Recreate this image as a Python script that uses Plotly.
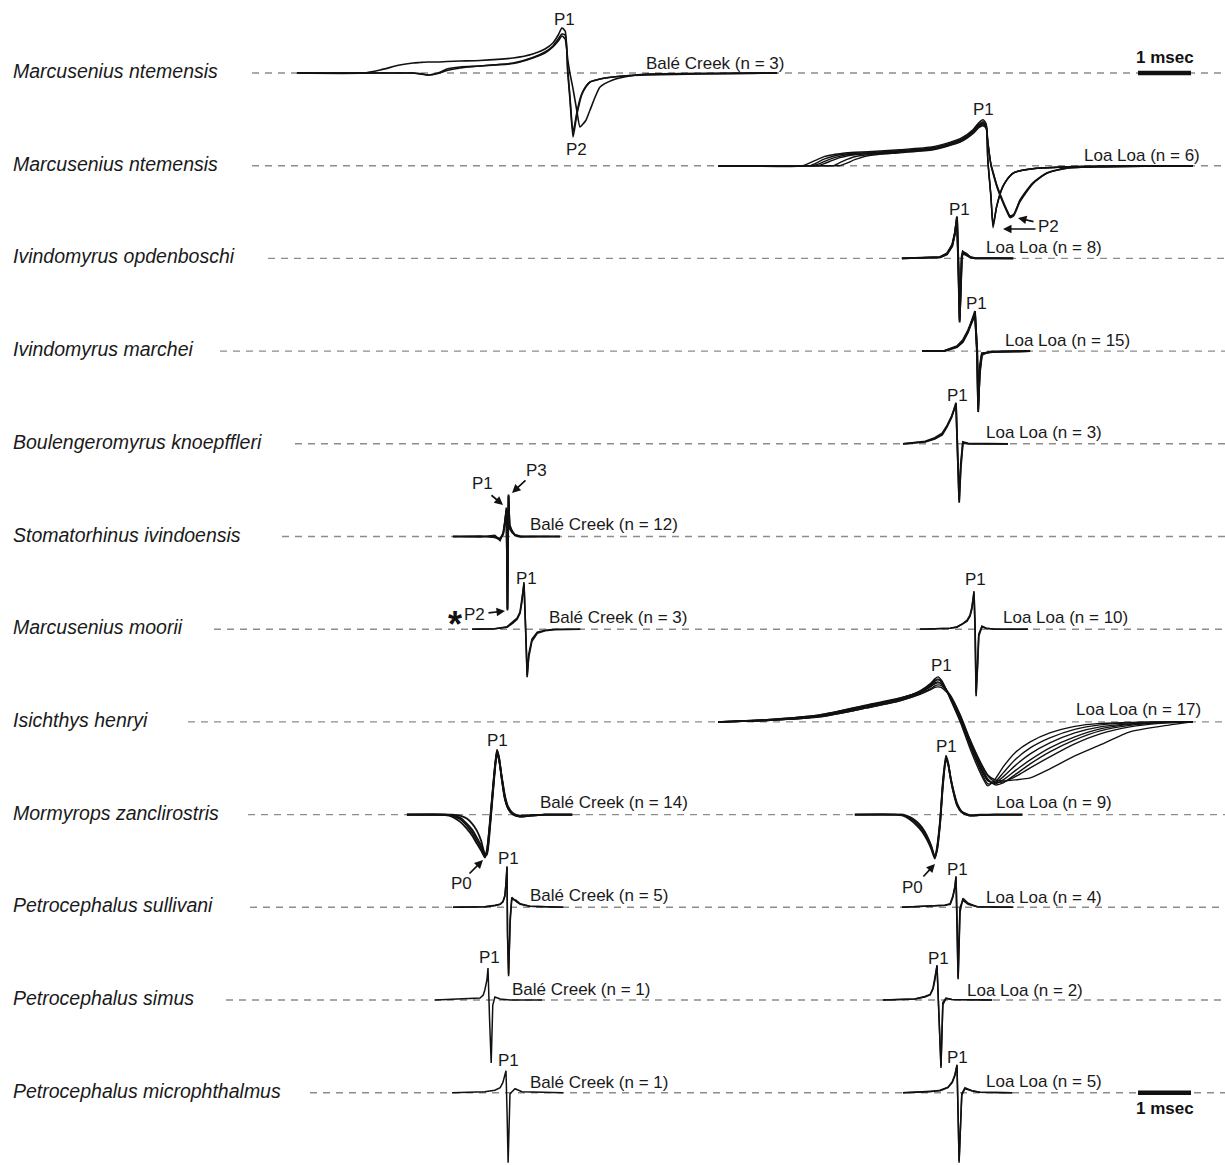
import plotly.graph_objects as go

# ---------------- page geometry (layout only) ----------------
W, H = 1225, 1165
PX_PER_MS = 53.0      # length of the "1 msec" bar in px
PX_PER_UNIT = 50.0    # px per relative-amplitude unit
ROW0_PX = 73.0        # baseline of the first row
ROW_PX = 92.7         # spacing between rows


def xp(px):
    return px / PX_PER_MS


def yp(py):
    return (ROW0_PX - py) / PX_PER_UNIT


def base(row):
    return -row * ROW_PX / PX_PER_UNIT


# ---------------- data ----------------
SPECIES = [
    "Marcusenius ntemensis",
    "Marcusenius ntemensis",
    "Ivindomyrus opdenboschi",
    "Ivindomyrus marchei",
    "Boulengeromyrus knoepffleri",
    "Stomatorhinus ivindoensis",
    "Marcusenius moorii",
    "Isichthys henryi",
    "Mormyrops zanclirostris",
    "Petrocephalus sullivani",
    "Petrocephalus simus",
    "Petrocephalus microphthalmus",
]
SCALE_MS = 1.0

# time (ms, relative to P1 peak) and relative amplitudes of each recorded EOD
mn_bale_t = [-5.02, -3.77, -3.45, -3.08, -2.83, -2.70, -2.55, -2.36, -2.19, -1.94, -1.57, -0.94,
             -0.57, -0.34, -0.19, -0.09, -0.02, 0.04, 0.09, 0.13, 0.19, 0.26, 0.32, 0.36, 0.43,
             0.51, 0.70, 0.94, 1.26, 1.58, 2.58, 4.04]
mn_bale_a = [0, 0, 0.06, 0.16, 0.20, 0.21, 0.22, 0.22, 0.23, 0.24, 0.25, 0.30, 0.38, 0.48, 0.60,
             0.76, 0.90, 0.84, 0.00, -0.51, -1.28, -0.84, -0.56, -0.42, -0.28, -0.18, -0.12, -0.08,
             -0.05, -0.04, -0.02, 0]
mn_bale_b = [0, 0, 0, 0, 0, -0.02, -0.04, 0, 0.08, 0.12, 0.14, 0.19, 0.30, 0.40, 0.52, 0.64, 0.74,
             0.68, 0.27, 0, -0.32, -0.75, -1.08, -1.04, -0.95, -0.74, -0.28, -0.14, -0.06, -0.02,
             -0.01, 0]
mn_bale_c = [0, 0, 0, 0, 0, -0.01, -0.04, -0.01, 0.05, 0.10, 0.14, 0.20, 0.31, 0.42, 0.54, 0.68,
             0.78, 0.76, 0.05, -0.45, -1.18, -0.80, -0.52, -0.40, -0.27, -0.18, -0.12, -0.08, -0.05,
             -0.03, -0.01, 0]

mn_loa_t = [-5.00, -3.40, -3.26, -3.11, -3.00, -2.83, -2.70, -2.55, -2.42, -2.17, -1.57, -0.94,
            -0.43, -0.19, -0.08, 0, 0.06, 0.09, 0.15, 0.19, 0.26, 0.36, 0.45, 0.51, 0.58, 0.70,
            0.94, 1.21, 1.58, 2.21, 3.96]
mn_loa_1 = [0, 0, 0.06, 0.13, 0.18, 0.22, 0.24, 0.26, 0.27, 0.28, 0.32, 0.38, 0.54, 0.72, 0.86,
            0.92, 0.84, 0.10, -0.65, -1.24, -0.80, -0.44, -0.28, -0.20, -0.14, -0.10, -0.06,
            -0.04, -0.02, -0.01, 0]
mn_loa_2 = [0, 0, 0, 0.07, 0.13, 0.19, 0.22, 0.24, 0.25, 0.26, 0.30, 0.36, 0.52, 0.70, 0.83,
            0.88, 0.80, 0.12, -0.60, -1.20, -0.82, -0.46, -0.29, -0.21, -0.15, -0.10, -0.06,
            -0.04, -0.02, -0.01, 0]
mn_loa_3 = [0, 0, 0, 0, 0.04, 0.11, 0.16, 0.20, 0.22, 0.24, 0.28, 0.34, 0.50, 0.68, 0.80, 0.84,
            0.78, 0.48, 0.02, -0.14, -0.40, -0.68, -0.90, -1.02, -0.98, -0.68, -0.34, -0.14,
            -0.04, -0.02, 0]
mn_loa_4 = [0, 0, 0, 0, 0, 0, 0.06, 0.13, 0.18, 0.22, 0.27, 0.33, 0.48, 0.66, 0.78, 0.82, 0.76,
            0.46, 0.04, -0.12, -0.38, -0.66, -0.88, -1.00, -0.97, -0.70, -0.36, -0.15, -0.05,
            -0.02, 0]
mn_loa_5 = [0, 0, 0, 0.03, 0.08, 0.15, 0.19, 0.22, 0.23, 0.25, 0.29, 0.35, 0.51, 0.69, 0.81,
            0.86, 0.80, 0.52, 0.00, -0.16, -0.42, -0.70, -0.92, -1.04, -1.00, -0.72, -0.36,
            -0.15, -0.05, -0.02, 0]
mn_loa_6 = [0, 0, 0, 0, 0, 0, 0, 0.06, 0.12, 0.20, 0.26, 0.32, 0.47, 0.64, 0.76, 0.80, 0.74,
            0.14, -0.60, -1.16, -0.80, -0.45, -0.28, -0.20, -0.14, -0.10, -0.06, -0.04, -0.02,
            -0.01, 0]

io_t = [-1.04, -0.32, -0.19, -0.09, -0.04, 0, 0.03, 0.05, 0.07, 0.09, 0.11, 0.17, 0.25, 0.34, 1.06]
io_1 = [0, 0.02, 0.08, 0.24, 0.50, 0.84, -0.40, -1.28, -0.50, 0.05, 0.14, 0.08, 0.02, 0, 0]
io_2 = [0, 0.03, 0.10, 0.28, 0.52, 0.80, -0.30, -1.24, -0.60, 0.02, 0.12, 0.10, 0.03, 0, 0]
io_3 = [0, 0.02, 0.09, 0.26, 0.48, 0.82, -0.20, -1.20, -0.70, 0.00, 0.10, 0.07, 0.02, 0.01, 0]

im_t = [-1.00, -0.57, -0.34, -0.23, -0.13, -0.06, 0, 0.04, 0.06, 0.09, 0.13, 0.21, 0.32, 1.04]
im_1 = [0, 0, 0.08, 0.18, 0.38, 0.60, 0.80, 0.00, -1.22, -0.30, -0.04, -0.03, -0.01, 0]
im_2 = [0, 0.01, 0.10, 0.22, 0.42, 0.62, 0.76, -0.10, -1.16, -0.40, -0.06, -0.04, -0.02, 0]
im_3 = [0, 0.01, 0.09, 0.20, 0.40, 0.58, 0.72, 0.05, -1.10, -0.46, -0.08, -0.03, -0.01, 0]

bk_t = [-1.00, -0.58, -0.40, -0.26, -0.17, -0.08, 0, 0.03, 0.06, 0.09, 0.13, 0.23, 0.98]
bk_1 = [0, 0.04, 0.10, 0.18, 0.34, 0.54, 0.82, -0.10, -1.18, -0.40, 0.04, 0.01, 0]
bk_2 = [0, 0.05, 0.12, 0.21, 0.36, 0.56, 0.78, 0.00, -1.12, -0.50, 0.02, 0.00, 0]

si_t = [-1.04, -0.53, -0.25, -0.15, -0.09, -0.06, -0.03, -0.01, 0.01, 0.03, 0.075, 0.13, 0.23, 0.98]
si_1 = [0, 0, 0, -0.04, 0.06, 0.28, 0.58, -1.48, 0.84, 0.20, 0.10, 0.04, 0, 0]
si_2 = [0, 0.01, -0.02, -0.06, 0.04, 0.24, 0.54, -1.46, 0.82, 0.16, 0.08, 0.03, 0.01, 0]
si_3 = [0, -0.01, 0.02, -0.08, 0.08, 0.30, 0.52, -1.44, 0.80, 0.24, 0.12, 0.02, -0.01, 0]

mm_bale_t = [-0.98, -0.55, -0.32, -0.21, -0.13, -0.075, -0.04, 0, 0.03, 0.06, 0.09, 0.15, 0.25,
             0.40, 0.58, 1.06]
mm_bale_1 = [0, 0.01, 0.04, 0.12, 0.20, 0.32, 0.54, 0.94, 0.00, -0.96, -0.50, -0.20, -0.06,
             -0.02, 0, 0]
mm_bale_2 = [0, 0.01, 0.05, 0.14, 0.22, 0.34, 0.56, 0.90, 0.05, -0.92, -0.56, -0.24, -0.08,
             -0.03, -0.01, 0]

mm_loa_t = [-1.02, -0.45, -0.32, -0.21, -0.13, -0.075, -0.04, 0, 0.02, 0.04, 0.07, 0.09, 0.15,
            0.23, 0.40, 1.02]
mm_loa_1 = [0, 0.02, 0.04, 0.10, 0.16, 0.26, 0.40, 0.76, 0.00, -1.34, -0.60, -0.10, 0.06, 0.02, 0, 0]
mm_loa_2 = [0, 0.02, 0.05, 0.11, 0.18, 0.28, 0.44, 0.72, 0.10, -1.28, -0.70, -0.14, 0.05, 0.02, 0, 0]

ih_t = [-4.15, -3.17, -2.23, -1.34, -0.72, -0.34, -0.15, -0.06, 0, 0.075, 0.23, 0.42, 0.60, 0.79,
        0.94, 1.08, 1.23, 1.45, 1.74, 2.11, 2.58, 3.06, 3.62, 4.19, 4.81]
ih_1 = [0, 0.04, 0.12, 0.32, 0.46, 0.62, 0.76, 0.86, 0.90, 0.82, 0.46, 0.00, -0.52, -1.00, -1.28,
        -1.14, -0.90, -0.62, -0.40, -0.22, -0.09, -0.03, -0.01, 0, 0]
ih_2 = [0, 0.05, 0.14, 0.33, 0.47, 0.61, 0.74, 0.83, 0.86, 0.80, 0.48, 0.04, -0.46, -0.94, -1.24,
        -1.20, -1.02, -0.76, -0.52, -0.32, -0.15, -0.06, -0.02, 0, 0]
ih_3 = [0, 0.03, 0.11, 0.30, 0.44, 0.58, 0.70, 0.78, 0.80, 0.76, 0.50, 0.06, -0.44, -0.90, -1.18,
        -1.22, -1.10, -0.88, -0.64, -0.42, -0.22, -0.10, -0.04, -0.01, 0]
ih_4 = [0, 0.04, 0.13, 0.31, 0.45, 0.60, 0.72, 0.81, 0.84, 0.79, 0.50, 0.08, -0.40, -0.86, -1.16,
        -1.24, -1.16, -0.98, -0.76, -0.52, -0.30, -0.14, -0.05, -0.01, 0]
ih_5 = [0, 0.03, 0.10, 0.28, 0.42, 0.55, 0.64, 0.69, 0.70, 0.68, 0.52, 0.12, -0.36, -0.80, -1.08,
        -1.20, -1.20, -1.10, -0.92, -0.70, -0.44, -0.24, -0.10, -0.03, 0]
ih_6 = [0, 0.05, 0.14, 0.34, 0.48, 0.60, 0.70, 0.76, 0.78, 0.75, 0.52, 0.10, -0.38, -0.84, -1.14,
        -1.26, -1.22, -1.06, -0.84, -0.60, -0.36, -0.18, -0.07, -0.02, 0]
ih_7 = [0, 0.03, 0.10, 0.28, 0.42, 0.56, 0.66, 0.72, 0.74, 0.72, 0.54, 0.14, -0.34, -0.78, -1.06,
        -1.16, -1.18, -1.16, -1.12, -0.94, -0.68, -0.46, -0.20, -0.09, 0]

mz_bale_t = [-1.70, -0.98, -0.85, -0.70, -0.57, -0.47, -0.38, -0.30, -0.23, -0.19, -0.13, -0.06,
             0, 0.04, 0.09, 0.15, 0.21, 0.30, 0.43, 0.62, 0.91, 1.42]
mz_bale_1 = [0, -0.01, -0.04, -0.14, -0.28, -0.42, -0.58, -0.72, -0.84, -0.70, -0.14, 0.72, 1.30,
             1.12, 0.70, 0.30, 0.12, 0.0, -0.04, -0.02, 0, 0]
mz_bale_2 = [0, 0, -0.01, -0.06, -0.18, -0.30, -0.46, -0.62, -0.80, -0.76, -0.18, 0.68, 1.26,
             1.10, 0.74, 0.34, 0.14, 0.02, -0.03, -0.02, 0, 0]
mz_bale_3 = [0, 0, 0, -0.02, -0.08, -0.18, -0.32, -0.52, -0.78, -0.80, -0.24, 0.64, 1.22, 1.08,
             0.76, 0.38, 0.16, 0.03, -0.02, -0.01, 0, 0]
mz_bale_4 = [0, 0, -0.02, -0.09, -0.22, -0.36, -0.52, -0.68, -0.86, -0.74, -0.10, 0.74, 1.28,
             1.14, 0.72, 0.32, 0.12, 0.01, -0.04, -0.02, 0, 0]

mz_loa_t = [-1.72, -0.96, -0.81, -0.68, -0.55, -0.45, -0.36, -0.28, -0.21, -0.17, -0.11, -0.06,
            0, 0.04, 0.09, 0.15, 0.21, 0.30, 0.45, 0.64, 0.92, 1.44]
mz_loa_1 = [0, 0, -0.02, -0.10, -0.22, -0.34, -0.50, -0.68, -0.88, -0.66, -0.10, 0.64, 1.18,
            1.04, 0.70, 0.40, 0.18, 0.04, -0.02, -0.01, 0, 0]
mz_loa_2 = [0, 0, 0, -0.05, -0.14, -0.26, -0.42, -0.62, -0.86, -0.70, -0.14, 0.60, 1.14, 1.02,
            0.72, 0.42, 0.20, 0.05, -0.02, -0.01, 0, 0]
mz_loa_3 = [0, 0, -0.01, -0.07, -0.18, -0.30, -0.46, -0.64, -0.84, -0.72, -0.16, 0.56, 1.10,
            1.00, 0.72, 0.44, 0.22, 0.06, -0.01, 0, 0, 0]

ps_bale_t = [-1.02, -0.42, -0.23, -0.13, -0.075, -0.04, -0.02, 0, 0.01, 0.03, 0.06, 0.09, 0.17,
             0.25, 0.43, 1.06]
ps_bale_1 = [0, 0.01, 0.04, 0.06, 0.12, 0.24, 0.48, 0.82, -0.60, -1.38, -0.20, 0.20, 0.12, 0.06,
             0.02, 0]
ps_bale_2 = [0, 0.01, 0.03, 0.06, 0.11, 0.22, 0.46, 0.80, -0.50, -1.34, -0.30, 0.16, 0.14, 0.07,
             0.02, 0]

ps_loa_t = [-1.02, -0.40, -0.21, -0.11, -0.06, -0.02, 0, 0.02, 0.04, 0.075, 0.13, 0.23, 0.40, 1.08]
ps_loa_1 = [0, 0.02, 0.04, 0.06, 0.20, 0.40, 0.62, -0.40, -1.44, -0.10, 0.18, 0.08, 0.01, 0]
ps_loa_2 = [0, 0.02, 0.04, 0.07, 0.22, 0.42, 0.60, -0.30, -1.40, 0.00, 0.14, 0.06, 0.01, 0]

psim_bale_t = [-1.00, -0.34, -0.15, -0.09, -0.06, -0.02, 0, 0.03, 0.06, 0.09, 0.13, 0.23, 0.42, 1.02]
psim_bale_1 = [0, 0.02, 0.04, 0.10, 0.20, 0.40, 0.64, -0.40, -1.26, -0.10, 0.06, 0.02, 0, 0]

psim_loa_t = [-1.02, -0.42, -0.23, -0.13, -0.075, -0.04, 0, 0.04, 0.075, 0.11, 0.17, 0.28, 1.04]
psim_loa_1 = [0, 0.02, 0.06, 0.10, 0.22, 0.40, 0.70, -0.30, -1.36, -0.05, 0.04, 0.01, 0]
psim_loa_2 = [0, 0.02, 0.07, 0.11, 0.24, 0.42, 0.68, -0.40, -1.32, -0.10, 0.03, 0.01, 0]

pm_bale_t = [-1.02, -0.40, -0.21, -0.11, -0.06, -0.02, 0, 0.02, 0.04, 0.075, 0.17, 0.30, 1.08]
pm_bale_1 = [0, 0.02, 0.05, 0.10, 0.20, 0.34, 0.44, -0.40, -1.40, -0.02, 0.08, 0.02, 0]

pm_loa_t = [-1.02, -0.51, -0.32, -0.17, -0.09, -0.04, 0, 0.02, 0.04, 0.09, 0.15, 0.28, 0.43, 1.04]
pm_loa_1 = [0, 0.02, 0.04, 0.10, 0.20, 0.34, 0.56, -0.40, -1.40, -0.02, 0.10, 0.04, 0.01, 0]
pm_loa_2 = [0, 0.02, 0.05, 0.11, 0.22, 0.36, 0.54, -0.30, -1.36, -0.05, 0.08, 0.04, 0.01, 0]

# ---------------- layout tables ----------------
DASH_START_PX = [252, 252, 268, 220, 295, 282, 214, 188, 248, 250, 226, 310]

# (row, x position of P1 peak in px, time array, amplitude arrays, line shape, width)
WAVES = [
    (0, 563, mn_bale_t, [mn_bale_a, mn_bale_b, mn_bale_c], "spline", 1.6),
    (1, 983, mn_loa_t, [mn_loa_1, mn_loa_2, mn_loa_3, mn_loa_4, mn_loa_5, mn_loa_6], "spline", 1.4),
    (2, 957, io_t, [io_1, io_2, io_3], "linear", 1.9),
    (3, 975, im_t, [im_1, im_2, im_3], "linear", 1.9),
    (4, 956, bk_t, [bk_1, bk_2], "linear", 1.8),
    (5, 508, si_t, [si_1, si_2, si_3], "linear", 1.7),
    (6, 524, mm_bale_t, [mm_bale_1, mm_bale_2], "linear", 1.6),
    (6, 974, mm_loa_t, [mm_loa_1, mm_loa_2], "linear", 1.6),
    (7, 938, ih_t, [ih_1, ih_2, ih_3, ih_4, ih_5, ih_6, ih_7], "spline", 1.4),
    (8, 497, mz_bale_t, [mz_bale_1, mz_bale_2, mz_bale_3, mz_bale_4], "spline", 1.8),
    (8, 946, mz_loa_t, [mz_loa_1, mz_loa_2, mz_loa_3], "spline", 1.8),
    (9, 507, ps_bale_t, [ps_bale_1, ps_bale_2], "linear", 1.5),
    (9, 956, ps_loa_t, [ps_loa_1, ps_loa_2], "linear", 1.6),
    (10, 488, psim_bale_t, [psim_bale_1], "linear", 1.5),
    (10, 937, psim_loa_t, [psim_loa_1, psim_loa_2], "linear", 1.5),
    (11, 506, pm_bale_t, [pm_bale_1], "linear", 1.5),
    (11, 957, pm_loa_t, [pm_loa_1, pm_loa_2], "linear", 1.5),
]

TEXT_LABELS = [
    ("P1", 564, 19), ("P2", 576, 149), ("Balé Creek (n = 3)", 715, 63),
    ("P1", 983, 109), ("Loa Loa (n = 6)", 1142, 155), ("P2", 1048, 226),
    ("P1", 959, 209), ("Loa Loa (n = 8)", 1044, 247),
    ("P1", 976, 303), ("Loa Loa (n = 15)", 1067, 340),
    ("P1", 957, 395), ("Loa Loa (n = 3)", 1044, 432),
    ("P1", 482, 483), ("P3", 536, 470), ("Balé Creek (n = 12)", 604, 524),
    ("P2", 474, 614), ("P1", 526, 578), ("Balé Creek (n = 3)", 618, 617),
    ("P1", 975, 579), ("Loa Loa (n = 10)", 1065, 617),
    ("P1", 941, 665), ("Loa Loa (n = 17)", 1138, 709),
    ("P1", 497, 740), ("Balé Creek (n = 14)", 614, 802), ("P0", 461, 883),
    ("P1", 946, 746), ("Loa Loa (n = 9)", 1054, 802), ("P0", 912, 887),
    ("P1", 508, 858), ("Balé Creek (n = 5)", 599, 895),
    ("P1", 957, 869), ("Loa Loa (n = 4)", 1044, 897),
    ("P1", 489, 957), ("Balé Creek (n = 1)", 581, 989),
    ("P1", 938, 958), ("Loa Loa (n = 2)", 1025, 990),
    ("P1", 508, 1060), ("Balé Creek (n = 1)", 599, 1082),
    ("P1", 957, 1057), ("Loa Loa (n = 5)", 1044, 1081),
]
# arrows: head (px, py) <- tail (px, py)
ARROWS = [
    (1018, 218, 1035, 222), (1003, 229, 1037, 229),
    (503, 505, 490, 494), (512, 493, 527, 479),
    (505, 611, 487, 613),
    (483, 860, 468, 875), (935, 864, 922, 878),
]
SCALE_BARS = [(1138, 0, 57), (1138, 11, 1108)]  # (x start px, row, label y px)

FONT = "Liberation Sans, Arial, Helvetica, sans-serif"
INK = "#111111"

fig = go.Figure()

# dashed baselines
for i in range(len(SPECIES)):
    fig.add_trace(go.Scatter(
        x=[xp(DASH_START_PX[i]), xp(W)], y=[base(i), base(i)], mode="lines",
        line=dict(color="#8c8c8c", width=1.4, dash="7px,6px"), hoverinfo="skip"))

# waveforms
for row, peak_px, t, amps, shape, lw in WAVES:
    x0 = xp(peak_px)
    for a in amps:
        line = dict(color=INK, width=lw, shape=shape)
        if shape == "spline":
            line["smoothing"] = 0.6
        fig.add_trace(go.Scatter(
            x=[x0 + ti for ti in t], y=[base(row) + ai for ai in a], mode="lines",
            line=line, hoverinfo="skip"))

# scale bars
for sx, row, ly in SCALE_BARS:
    fig.add_trace(go.Scatter(
        x=[xp(sx), xp(sx) + SCALE_MS], y=[base(row), base(row)], mode="lines",
        line=dict(color=INK, width=4.5), hoverinfo="skip"))

annotations = []
for i, name in enumerate(SPECIES):
    annotations.append(dict(
        x=xp(11), y=base(i), xref="x", yref="y", xanchor="left", yanchor="middle",
        text="<i>" + name + "</i>", showarrow=False, yshift=2,
        font=dict(family=FONT, size=19.5, color="#1a1a1a")))

for txt, px, py in TEXT_LABELS:
    annotations.append(dict(
        x=xp(px), y=yp(py), xref="x", yref="y", xanchor="center", yanchor="middle",
        text=txt, showarrow=False, font=dict(family=FONT, size=17, color="#1a1a1a")))

for hx, hy, tx, ty in ARROWS:
    annotations.append(dict(
        x=xp(hx), y=yp(hy), ax=xp(tx), ay=yp(ty), xref="x", yref="y", axref="x", ayref="y",
        text="", showarrow=True, arrowhead=2, arrowsize=1.0, arrowwidth=1.7, arrowcolor=INK))

annotations.append(dict(
    x=xp(455), y=yp(624), xref="x", yref="y", xanchor="center", yanchor="middle",
    text="<b>*</b>", showarrow=False, font=dict(family=FONT, size=36, color=INK)))

for sx, row, ly in SCALE_BARS:
    annotations.append(dict(
        x=xp(sx) + SCALE_MS / 2, y=yp(ly), xref="x", yref="y", xanchor="center",
        yanchor="middle", text="<b>1 msec</b>", showarrow=False,
        font=dict(family=FONT, size=17, color=INK)))

fig.update_layout(
    width=W, height=H, autosize=False,
    margin=dict(l=0, r=0, t=0, b=0, pad=0),
    paper_bgcolor="white", plot_bgcolor="white",
    showlegend=False, hovermode=False,
    xaxis=dict(range=[0, xp(W)], visible=False, fixedrange=True),
    yaxis=dict(range=[yp(H), yp(0)], visible=False, fixedrange=True),
    annotations=annotations,
)

fig.write_html("out.html", post_script="document.body.style.margin='0px';document.body.style.overflow='hidden';",
               config={"displayModeBar": False})
